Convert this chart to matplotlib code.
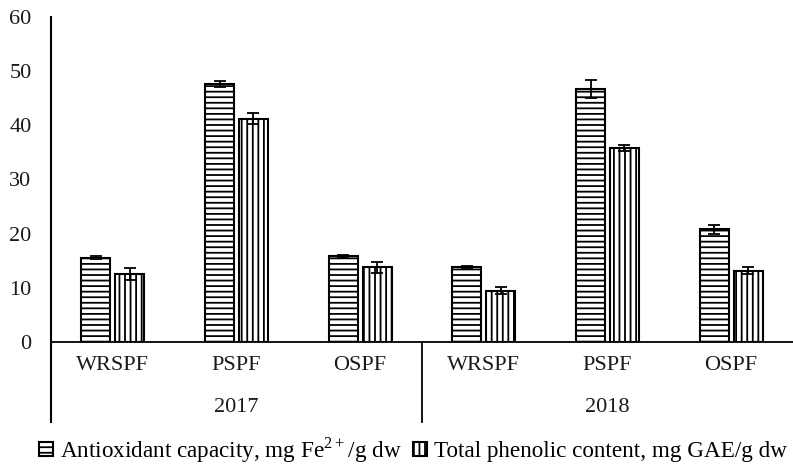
import numpy as np
import matplotlib
matplotlib.use("Agg")
from matplotlib import pyplot as plt

plt.rcParams['font.family'] = ['Liberation Serif', 'DejaVu Serif']
plt.rcParams['mathtext.fontset'] = 'custom'
plt.rcParams['mathtext.rm'] = 'Liberation Serif'
plt.rcParams['hatch.linewidth'] = 1.3

categories = ["WRSPF", "PSPF", "OSPF", "WRSPF", "PSPF", "OSPF"]
years = ["2017", "2018"]
antiox = [15.6, 47.6, 15.8, 13.8, 46.7, 20.8]
antiox_err = [0.3, 0.5, 0.3, 0.3, 1.7, 0.8]
phenol = [12.5, 41.2, 13.8, 9.5, 35.8, 13.2]
phenol_err = [1.1, 1.0, 1.0, 0.6, 0.6, 0.7]

fig = plt.figure(figsize=(7.93, 4.68), dpi=100)
ax = fig.add_axes([51/793, 126/468, 742/793, 325/468])

x = np.arange(len(categories))
w = 0.235
ax.bar(x - 0.137, antiox, w, color='white', edgecolor='black', linewidth=1.5,
       hatch='---', label='Antioxidant capacity, mg Fe$^{2+}$/g dw')
ax.bar(x + 0.137, phenol, w, color='white', edgecolor='black', linewidth=1.5,
       hatch='|||', label='Total phenolic content, mg GAE/g dw')
ax.errorbar(x - 0.137, antiox, yerr=antiox_err, fmt='none', ecolor='black', elinewidth=1.3, capsize=4, capthick=1.3)
ax.errorbar(x + 0.137, phenol, yerr=phenol_err, fmt='none', ecolor='black', elinewidth=1.3, capsize=4, capthick=1.3)

ax.set_xlim(-0.5, 5.5)
ax.set_ylim(0, 60)
ax.set_yticks(range(0, 61, 10))
ax.set_xticks(x)
ax.set_xticklabels(categories)
ax.tick_params(axis='both', length=0, labelsize=16, colors='#1a1a1a')
ax.tick_params(axis='x', pad=10)
ax.tick_params(axis='y', pad=14)

for s in ['top', 'right', 'left']:
    ax.spines[s].set_visible(False)
ax.spines['bottom'].set_linewidth(1.3)

ax.plot([0, 0], [-0.246, 1], transform=ax.transAxes, color='black', lw=1.5, clip_on=False)
ax.plot([0.5, 0.5], [-0.246, 0], transform=ax.transAxes, color='black', lw=1.3, clip_on=False)
ax.text(0.25, -0.203, years[0], transform=ax.transAxes, ha='center', va='center', fontsize=16, color='#1a1a1a')
ax.text(0.75, -0.203, years[1], transform=ax.transAxes, ha='center', va='center', fontsize=16, color='#1a1a1a')

fig.legend(loc='center', bbox_to_anchor=(0.521, 1 - 450/468), ncol=2, frameon=False,
           fontsize=16.7, handlelength=0.6, handleheight=0.6, handletextpad=0.3,
           columnspacing=0.5)

fig.savefig("out.png", dpi=100)
